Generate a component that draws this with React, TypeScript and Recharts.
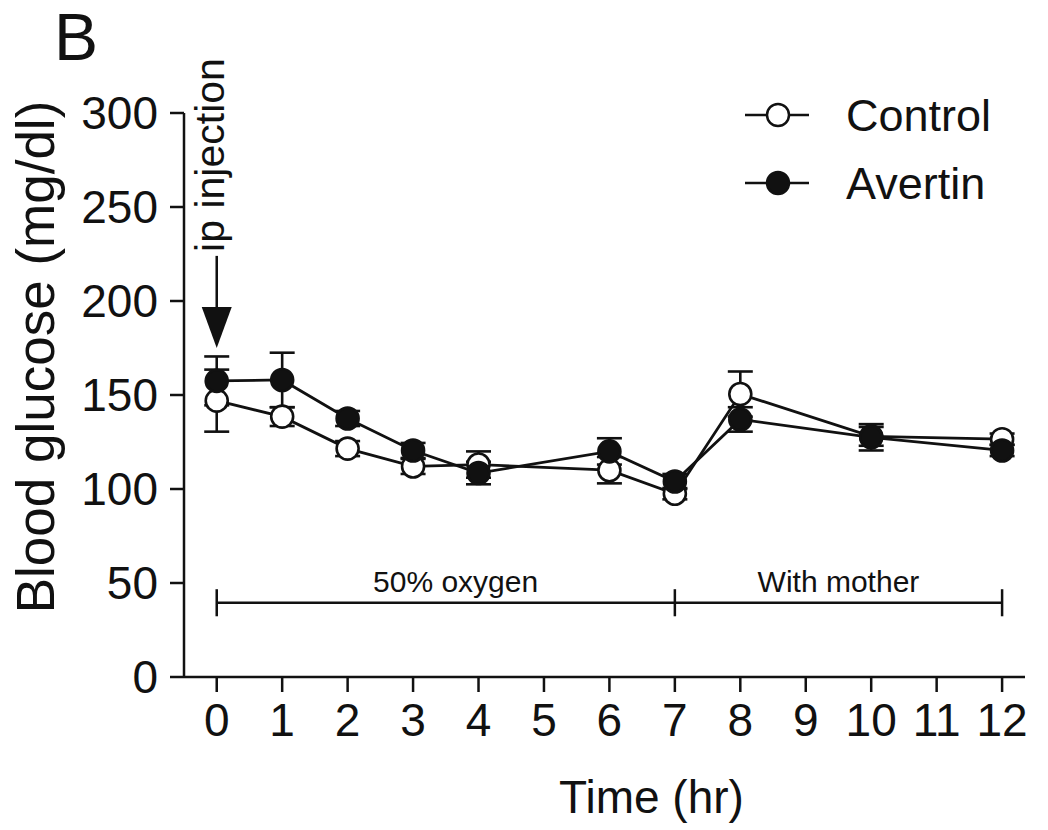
import React from 'react';
import {
  ComposedChart, Line, XAxis, YAxis, ErrorBar, ReferenceLine, ReferenceDot, Legend, Label,
} from 'recharts';

const FONT = '"Liberation Sans", Arial, Helvetica, sans-serif';
const INK = '#111';

// hours after ip injection
const hours = [0, 1, 2, 3, 4, 6, 7, 8, 10, 12];
const controlMean = [147, 138.5, 121.5, 112, 113, 110, 97.5, 150.5, 128, 126.5];
const controlSem = [16.5, 5, 4, 4, 7, 7, 3, 12, 5, 3];
const avertinMean = [157.5, 158, 137.5, 120.5, 108.5, 120, 104, 137, 127.5, 120.5];
const avertinSem = [13, 14.5, 4, 4, 6, 7, 4, 6.5, 7, 3];

const xTicks = [0, 1, 2, 3, 4, 5, 6, 7, 8, 9, 10, 11, 12];
const yTicks = [0, 50, 100, 150, 200, 250, 300];

// bracket annotations along the bottom of the plot
const phases = [
  { label: '50% oxygen', from: 0, to: 7, labelAt: 3.65 },
  { label: 'With mother', from: 7, to: 12, labelAt: 9.5 },
];
const phaseLevel = 39.5;
const phaseCap = 7.2;

// ip injection arrow (data units)
const injectionHour = 0;
const arrowTip = 175;
const arrowTop = 224;

const data = hours.map((h, i) => ({
  hour: h,
  control: controlMean[i],
  controlErr: controlSem[i],
  avertin: avertinMean[i],
  avertinErr: avertinSem[i],
}));

const ArrowHead = (props: any) => {
  const { cx, cy } = props;
  if (cx == null || cy == null) return null;
  return <polygon points={`${cx},${cy} ${cx - 15},${cy - 41} ${cx + 15},${cy - 41}`} fill={INK} />;
};

const InjectionText = (props: any) => {
  const { cx, cy } = props;
  if (cx == null || cy == null) return null;
  const x = cx + 7;
  const y = cy - 4;
  return (
    <text x={x} y={y} transform={`rotate(-90, ${x}, ${y})`} fontSize={41} fontFamily={FONT} fill={INK} textAnchor="start">
      ip injection
    </text>
  );
};

const LegendIcon = ({ filled }: { filled: boolean }) => (
  <svg width={66} height={30} style={{ display: 'block' }}>
    <line x1={0} x2={64} y1={15} y2={15} stroke={INK} strokeWidth={2.5} />
    <circle cx={33} cy={15} r={11} fill={filled ? INK : '#fff'} stroke={INK} strokeWidth={2.5} />
  </svg>
);

const renderLegend = () => (
  <div style={{ fontFamily: FONT, color: INK }}>
    {[
      { name: 'Control', filled: false },
      { name: 'Avertin', filled: true },
    ].map((s) => (
      <div key={s.name} style={{ display: 'flex', alignItems: 'center', height: 68 }}>
        <LegendIcon filled={s.filled} />
        <span style={{ marginLeft: 35, fontSize: 45, lineHeight: 1 }}>{s.name}</span>
      </div>
    ))}
  </div>
);

const XTitle = (props: any) => {
  const vb = props.viewBox || {};
  const x = vb.x + vb.width / 2 + 47;
  const y = vb.y + vb.height - 17;
  return (
    <text x={x} y={y} textAnchor="middle" fontSize={46} fontFamily={FONT} fill={INK}>
      Time (hr)
    </text>
  );
};

const YTitle = (props: any) => {
  const vb = props.viewBox || {};
  const x = 54;
  const y = vb.y + vb.height / 2 - 38;
  return (
    <text x={x} y={y} transform={`rotate(-90, ${x}, ${y})`} textAnchor="middle" fontSize={53} fontFamily={FONT} fill={INK}>
      Blood glucose (mg/dl)
    </text>
  );
};

const tickStyle = { fontSize: 46, fill: INK, fontFamily: FONT };
const axisStroke = { stroke: INK, strokeWidth: 2.5 };

export default function App() {
  return (
    <div style={{ position: 'absolute', left: 0, top: 0, width: 1048, height: 830, background: '#fff' }}>
      <div style={{ position: 'absolute', left: 54, top: 4, fontFamily: FONT, fontSize: 66, lineHeight: '66px', color: INK }}>
        B
      </div>
      <ComposedChart width={1048} height={830} data={data} margin={{ top: 113, right: 23, bottom: 0, left: 0 }}>
        <XAxis
          type="number"
          dataKey="hour"
          domain={[-0.5, 12.35]}
          ticks={xTicks}
          interval={0}
          allowDataOverflow
          height={153}
          tickSize={15}
          tickMargin={11}
          axisLine={axisStroke}
          tickLine={axisStroke}
          tick={tickStyle}
        >
          <Label content={XTitle} />
        </XAxis>
        <YAxis
          type="number"
          domain={[0, 300]}
          ticks={yTicks}
          interval={0}
          allowDataOverflow
          width={184}
          tickSize={14}
          tickMargin={12}
          axisLine={axisStroke}
          tickLine={axisStroke}
          tick={tickStyle}
        >
          <Label content={YTitle} />
        </YAxis>

        {phases.map((p) => (
          <ReferenceLine
            key={p.label}
            segment={[{ x: p.from, y: phaseLevel }, { x: p.to, y: phaseLevel }]}
            stroke={INK}
            strokeWidth={2.5}
          />
        ))}
        {[0, 7, 12].map((h) => (
          <ReferenceLine
            key={`cap-${h}`}
            segment={[{ x: h, y: phaseLevel - phaseCap }, { x: h, y: phaseLevel + phaseCap }]}
            stroke={INK}
            strokeWidth={2.5}
          />
        ))}
        {phases.map((p) => (
          <ReferenceDot
            key={`lbl-${p.label}`}
            x={p.labelAt}
            y={phaseLevel}
            r={0}
            fill="none"
            stroke="none"
            label={{ value: p.label, position: 'top', offset: 11, fontSize: 30, fontFamily: FONT, fill: INK }}
          />
        ))}

        <ReferenceLine
          segment={[{ x: injectionHour, y: arrowTip + 20 }, { x: injectionHour, y: arrowTop }]}
          stroke={INK}
          strokeWidth={2.5}
        />
        <ReferenceDot x={injectionHour} y={arrowTip} r={0} shape={ArrowHead} />
        <ReferenceDot x={injectionHour} y={arrowTop} r={0} shape={InjectionText} />

        <Line
          type="linear"
          dataKey="control"
          stroke={INK}
          strokeWidth={2.8}
          dot={{ r: 11, fill: '#fff', stroke: INK, strokeWidth: 2.6 }}
          activeDot={false}
          isAnimationActive={false}
        >
          <ErrorBar dataKey="controlErr" direction="y" width={12.5} stroke={INK} strokeWidth={2.6} />
        </Line>
        <Line
          type="linear"
          dataKey="avertin"
          stroke={INK}
          strokeWidth={2.8}
          dot={{ r: 11, fill: INK, stroke: INK, strokeWidth: 2.6 }}
          activeDot={false}
          isAnimationActive={false}
        >
          <ErrorBar dataKey="avertinErr" direction="y" width={12.5} stroke={INK} strokeWidth={2.6} />
        </Line>

        <Legend
          layout="vertical"
          align="center"
          verticalAlign="middle"
          wrapperStyle={{ position: 'absolute', left: 745, top: 81, width: 300 }}
          content={renderLegend}
        />
      </ComposedChart>
    </div>
  );
}
